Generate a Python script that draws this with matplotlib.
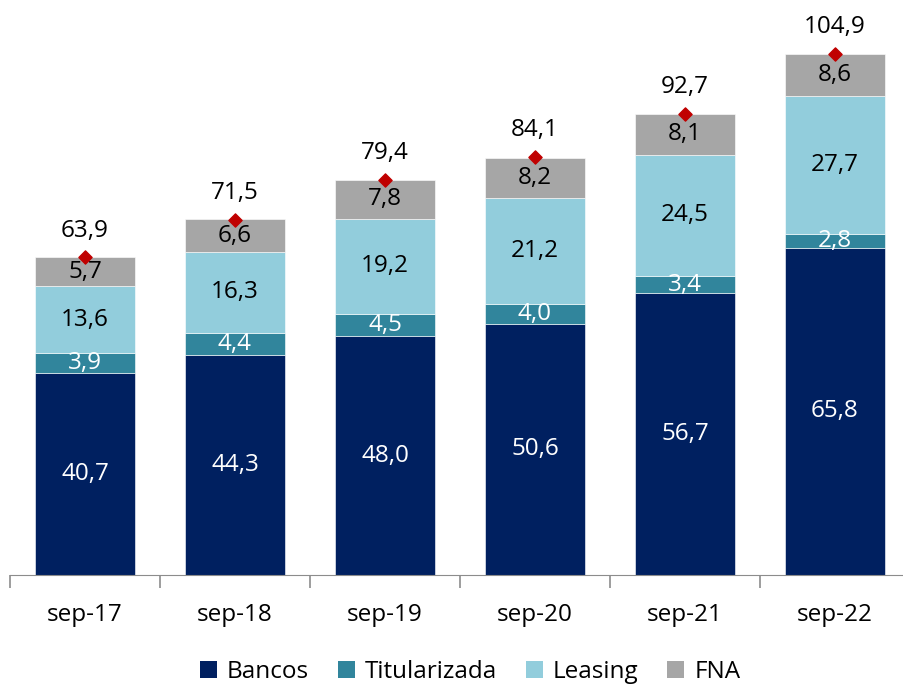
import numpy as np
import matplotlib
matplotlib.use("Agg")
from matplotlib import pyplot as plt
from matplotlib.patches import Patch

plt.rcParams['font.family'] = ['Open Sans', 'DejaVu Sans']

# data
periods = ["sep-17", "sep-18", "sep-19", "sep-20", "sep-21", "sep-22"]
bancos = [40.7, 44.3, 48.0, 50.6, 56.7, 65.8]
titularizada = [3.9, 4.4, 4.5, 4.0, 3.4, 2.8]
leasing = [13.6, 16.3, 19.2, 21.2, 24.5, 27.7]
fna = [5.7, 6.6, 7.8, 8.2, 8.1, 8.6]
totals = [63.9, 71.5, 79.4, 84.1, 92.7, 104.9]

series = [
    ("Bancos", bancos, "#002060", "white"),
    ("Titularizada", titularizada, "#31859C", "white"),
    ("Leasing", leasing, "#92CDDC", "black"),
    ("FNA", fna, "#A6A6A6", "black"),
]

def fmt(v):
    return f"{v:.1f}".replace(".", ",")

fig = plt.figure(figsize=(9.04, 6.88), dpi=100)
ax = fig.add_axes([10 / 904, 113 / 688, 900 / 904, 575 / 688])

x = np.arange(len(periods))
bottom = np.zeros(len(periods))
handles = []
for name, vals, color, tcolor in series:
    vals = np.array(vals)
    ax.bar(x, vals, 0.667, bottom=bottom, color=color, edgecolor="white", linewidth=0.4)
    for xi, b, v in zip(x, bottom, vals):
        ax.text(xi, b + v / 2, fmt(v), ha="center", va="center", color=tcolor, fontsize=17.5)
    bottom += vals
    handles.append(Patch(facecolor=color, label=name))

ax.scatter(x, totals, marker="D", s=45, color="#C00000", zorder=5)
for xi, t in zip(x, totals):
    ax.text(xi, t + 3.0, fmt(t), ha="center", va="bottom", fontsize=17.5)

ax.set_xlim(-0.5, 5.5)
ax.set_ylim(0, 115.7)
ax.set_yticks([])
for s in ["top", "right", "left"]:
    ax.spines[s].set_visible(False)
ax.spines["bottom"].set_color("#8C8C8C")
ax.set_xticks(np.arange(-0.5, 6.0, 1.0))
ax.set_xticklabels([])
ax.set_xticks(x, minor=True)
ax.set_xticklabels(periods, minor=True, fontsize=17.5)
ax.tick_params(axis="x", which="major", length=9, color="#8C8C8C", width=1.2)
ax.tick_params(axis="x", which="minor", length=0, pad=20)

fig.legend(handles=handles, loc="center", bbox_to_anchor=(470 / 904, 1 - 672 / 688),
           ncol=4, frameon=False, fontsize=17.5, handlelength=0.7, handleheight=0.7,
           handletextpad=0.4, columnspacing=1.2)

fig.savefig("out.png", dpi=100)
